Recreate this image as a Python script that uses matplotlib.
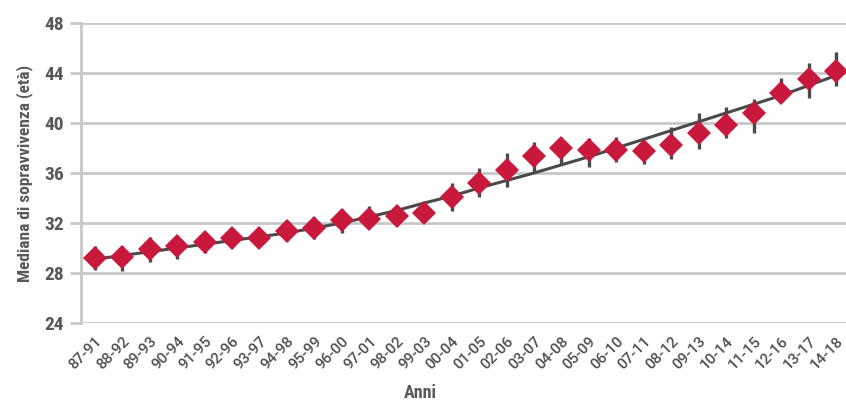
import numpy as np
import matplotlib
matplotlib.use('Agg')
from matplotlib import pyplot as plt
from matplotlib import font_manager

periodi = ['87-91', '88-92', '89-93', '90-94', '91-95', '92-96', '93-97',
           '94-98', '95-99', '96-00', '97-01', '98-02', '99-03', '00-04',
           '01-05', '02-06', '03-07', '04-08', '05-09', '06-10', '07-11',
           '08-12', '09-13', '10-14', '11-15', '12-16', '13-17', '14-18']

mediana = [29.2, 29.3, 29.9, 30.2, 30.45, 30.8, 30.8, 31.4, 31.6, 32.2,
           32.3, 32.6, 32.8, 34.1, 35.2, 36.2, 37.4, 38.0, 37.85, 37.85,
           37.8, 38.2, 39.2, 39.85, 40.8, 42.4, 43.5, 44.2]

ic_basso = [28.25, 28.2, 28.9, 29.1, 29.6, 30.0, 30.2, 30.6, 30.7, 31.2,
            31.65, 32.0, 32.3, 33.0, 34.1, 34.9, 36.1, 36.7, 36.5, 36.85,
            36.7, 37.1, 37.9, 38.8, 39.2, 41.7, 42.0, 43.0]

ic_alto = [30.15, 30.2, 30.85, 31.0, 31.2, 31.5, 31.4, 32.2, 32.5, 33.1,
           33.4, 33.4, 33.6, 35.2, 36.4, 37.6, 38.5, 38.8, 38.8, 38.85,
           38.6, 39.7, 40.8, 41.3, 41.9, 43.6, 44.8, 45.7]

tendenza = [29.1, 29.4, 29.7, 30.0, 30.3, 30.6, 30.9, 31.2, 31.6, 32.0,
            32.5, 33.0, 33.6, 34.15, 34.8, 35.4, 36.0, 36.65, 37.3, 38.0,
            38.7, 39.4, 40.1, 40.8, 41.5, 42.2, 43.0, 43.8]

y_ticks = [24, 28, 32, 36, 40, 44, 48]

# font stretta per assi/titoli, Roboto normale per le etichette degli anni
nomi = {f.name for f in font_manager.fontManager.ttflist}
font = 'DejaVu Sans'
for f in ['Roboto Condensed', 'Liberation Sans Narrow', 'Open Sans Condensed', 'Roboto']:
    if f in nomi:
        font = f
        break
font_anni = 'Roboto' if 'Roboto' in nomi else 'DejaVu Sans'
plt.rcParams['font.family'] = [font, 'DejaVu Sans']

grigio_testo = '#595959'
grigio_griglia = '#c8c8c8'
rosso = '#c8193c'
grigio_scuro = '#4a4a4a'

fig = plt.figure(figsize=(8.46, 4.03), dpi=100)
ax = fig.add_axes([81 / 846, 80 / 403, (849.7 - 81) / 846, 300 / 403])

x = np.arange(len(periodi))
med = np.array(mediana)
err = [med - np.array(ic_basso), np.array(ic_alto) - med]

ax.plot(x, tendenza, color=grigio_scuro, lw=2.2, zorder=2)
ax.errorbar(x, med, yerr=err, fmt='none', ecolor=grigio_scuro,
            elinewidth=2.4, capsize=0, zorder=3)
ax.plot(x, med, linestyle='none', marker='D', markersize=12.5,
        color=rosso, markeredgewidth=0, zorder=4)

ax.set_xlim(-0.5, len(periodi) - 0.5)
ax.set_ylim(24, 48)
ax.set_yticks(y_ticks)
ax.yaxis.grid(True, color=grigio_griglia, lw=2)
ax.set_axisbelow(True)

for s in ['top', 'right', 'bottom']:
    ax.spines[s].set_visible(False)
ax.spines['left'].set_color(grigio_griglia)
ax.spines['left'].set_linewidth(2)

ax.tick_params(axis='y', length=8, width=2, color=grigio_griglia,
               labelsize=14, labelcolor=grigio_testo, pad=4)
for t in ax.get_yticklabels():
    t.set_fontweight('bold')

ax.set_xticks(x)
ax.set_xticklabels(periodi, rotation=45, ha='right', rotation_mode='anchor',
                   fontsize=11, color='#505050', fontweight='medium',
                   family=[font_anni, 'DejaVu Sans'])
ax.tick_params(axis='x', length=0, pad=8)

ax.set_ylabel('Mediana di sopravvivenza (età)', fontsize=12.5,
              color=grigio_testo, fontweight='bold', labelpad=8)
ax.set_xlabel('Anni', fontsize=13, color=grigio_testo, fontweight='bold')
ax.xaxis.set_label_coords((420 - 81) / (849.7 - 81), -0.205)

fig.savefig('out.png', dpi=100)
